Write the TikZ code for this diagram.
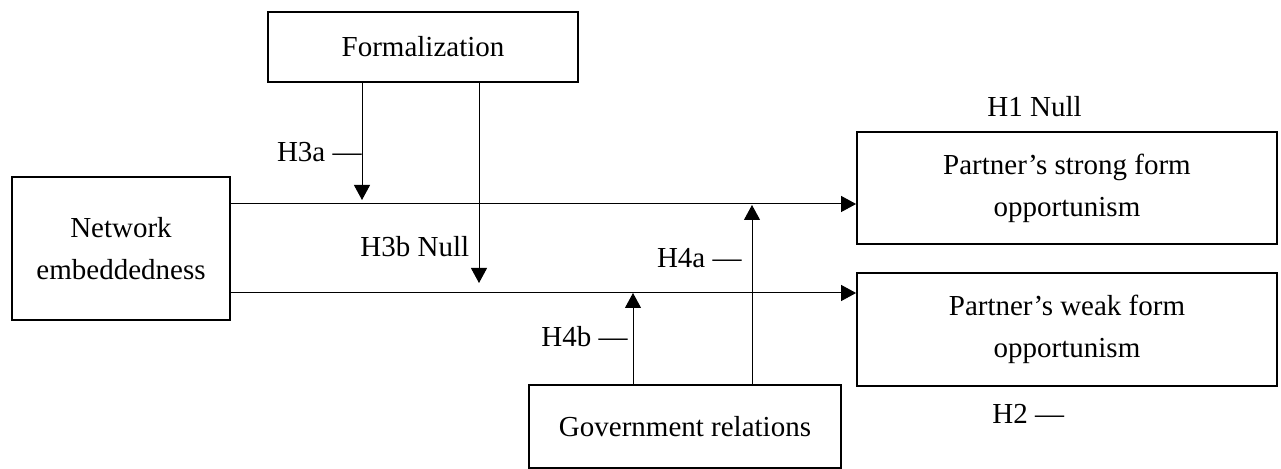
\documentclass[tikz,border=0pt]{standalone}
\usepackage{fontspec}
\setmainfont{Liberation Serif}
\usetikzlibrary{arrows.meta}
\begin{document}
\begin{tikzpicture}[x=0.5pt,y=-0.5pt,
  box/.style={draw,line width=0.9pt,inner sep=0pt,align=center,font=\fontsize{14.5}{21}\selectfont},
  lbl/.style={inner sep=0pt,font=\fontsize{14.5}{21}\selectfont},
  arr/.style={line width=0.5pt,-{Triangle[length=7.5pt,width=8pt]}}]
\useasboundingbox (0,0) rectangle (1281,469);
\node[box,minimum width=155pt,minimum height=35pt] (form) at (423,47) {Formalization};
\node[box,minimum width=109pt,minimum height=71.5pt] (net) at (121,248.5) {Network\\embeddedness};
\node[box,minimum width=210pt,minimum height=56pt] (strong) at (1067,188) {Partner’s strong form\\opportunism};
\node[box,minimum width=210pt,minimum height=56.5pt] (weak) at (1067,329.5) {Partner’s weak form\\opportunism};
\node[box,minimum width=156pt,minimum height=41.5pt] (gov) at (685,426.5) {Government relations};
\coordinate (y1) at (0,204);
\coordinate (y2) at (0,293);
\draw[arr] (net.east |- y1) -- (strong.west |- y1);
\draw[arr] (net.east |- y2) -- (weak.west |- y2);
\coordinate (t3a) at (362,200);
\coordinate (t3b) at (479,283);
\coordinate (t4a) at (752,205);
\coordinate (t4b) at (633,293);
\draw[arr] (form.south -| t3a) -- (t3a);
\draw[arr] (form.south -| t3b) -- (t3b);
\draw[arr] (gov.north -| t4a) -- (t4a);
\draw[arr] (gov.north -| t4b) -- (t4b);
\node[lbl,anchor=base east] (h3a) at (362,162) {H3a —};
\node[lbl,anchor=base west] (h3b) at (360,257) {H3b Null};
\node[lbl,anchor=base east] (h4a) at (742,268) {H4a —};
\node[lbl,anchor=base east] (h4b) at (628,347) {H4b —};
\node[lbl,anchor=base west] (h1) at (987,117) {H1 Null};
\node[lbl,anchor=base west] (h2) at (992,424) {H2 —};
\end{tikzpicture}
\end{document}
